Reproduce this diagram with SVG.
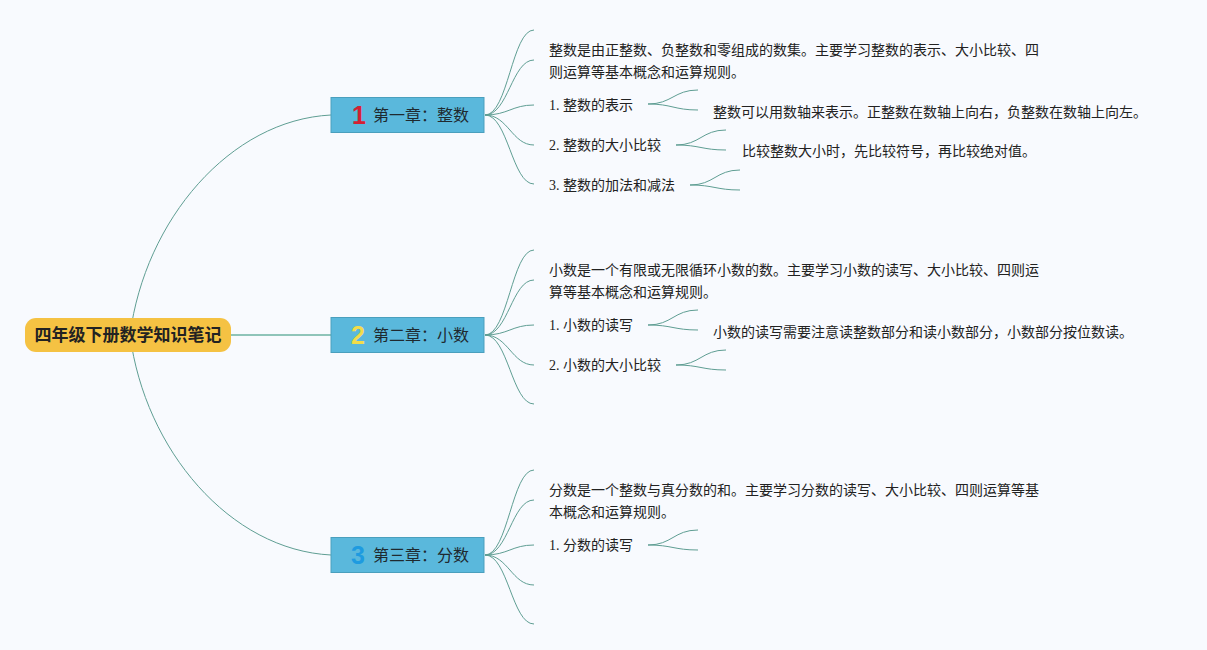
<svg xmlns="http://www.w3.org/2000/svg" width="1207" height="650" viewBox="0 0 1207 650">
<style>
.bg{fill:#f8fafe}
.ln{fill:none;stroke:#5f9e93;stroke-width:1}
.main{fill:none;stroke:#8fc4b9;stroke-width:2}
.chap{fill:#5ab8dc;stroke:#4a9fbd;stroke-width:1}
.ct{font-family:"Noto Sans CJK SC","Liberation Sans",sans-serif;font-size:16px;fill:#1f2a30}
.num{font-family:"Liberation Sans","DejaVu Sans",sans-serif;font-size:25px;font-weight:bold}
.t{font-family:"Liberation Serif","Noto Sans CJK SC",serif;font-size:14px;fill:#222}
.root{fill:#f5c243}
.rt{font-family:"Noto Sans CJK SC","Liberation Sans",sans-serif;font-size:17px;font-weight:bold;fill:#222}
</style>
<rect class="bg" x="0" y="0" width="1207" height="650"/>
<g id="connectors">
<path class="ln" d="M130,335 C145,220 230,120 331,115"/>
<path class="ln" d="M130,335 C145,450 230,550 331,555"/>
<line class="main" x1="231" y1="335" x2="331" y2="335"/>
<path class="ln" d="M485,115 C508,115 512,30 534,30"/>
<path class="ln" d="M485,115 C508,115 512,60 534,60"/>
<path class="ln" d="M485,115 C508,115 512,105 534,105"/>
<path class="ln" d="M485,115 C508,115 512,145 534,145"/>
<path class="ln" d="M485,115 C508,115 512,184 534,184"/>
<path class="ln" d="M648,104 C672,104 674,90 698,90"/>
<path class="ln" d="M648,104 C672,104 674,110 698,110"/>
<path class="ln" d="M676,145 C700,145 702,130 726,130"/>
<path class="ln" d="M676,145 C700,145 702,150 726,150"/>
<path class="ln" d="M690,185 C714,185 716,170 740,170"/>
<path class="ln" d="M690,185 C714,185 716,190 740,190"/>
<path class="ln" d="M485,335 C508,335 512,250 534,250"/>
<path class="ln" d="M485,335 C508,335 512,280 534,280"/>
<path class="ln" d="M485,335 C508,335 512,325 534,325"/>
<path class="ln" d="M485,335 C508,335 512,365 534,365"/>
<path class="ln" d="M485,335 C508,335 512,404 534,404"/>
<path class="ln" d="M648,325 C672,325 674,310 698,310"/>
<path class="ln" d="M648,325 C672,325 674,330 698,330"/>
<path class="ln" d="M676,365 C700,365 702,350 726,350"/>
<path class="ln" d="M676,365 C700,365 702,370 726,370"/>
<path class="ln" d="M485,555 C508,555 512,470 534,470"/>
<path class="ln" d="M485,555 C508,555 512,500 534,500"/>
<path class="ln" d="M485,555 C508,555 512,545 534,545"/>
<path class="ln" d="M485,555 C508,555 512,585 534,585"/>
<path class="ln" d="M485,555 C508,555 512,624 534,624"/>
<path class="ln" d="M648,545 C672,545 674,530 698,530"/>
<path class="ln" d="M648,545 C672,545 674,550 698,550"/>
</g>
<g id="root">
<rect class="root" x="25" y="318" width="206" height="34" rx="11"/>
<text class="rt" x="128" y="341" text-anchor="middle">四年级下册数学知识笔记</text>
</g>
<g id="ch1">
<rect class="chap" x="331" y="97.5" width="153" height="35"/>
<text class="num" x="359" y="124" text-anchor="middle" fill="#d42033">1</text>
<text class="ct" x="373" y="121">第一章：整数</text>
</g>
<g id="ch2">
<rect class="chap" x="331" y="317.5" width="153" height="35"/>
<text class="num" x="358" y="344" text-anchor="middle" fill="#f2dc4a">2</text>
<text class="ct" x="373" y="341">第二章：小数</text>
</g>
<g id="ch3">
<rect class="chap" x="331" y="537.5" width="153" height="35"/>
<text class="num" x="358" y="564" text-anchor="middle" fill="#1e9be0">3</text>
<text class="ct" x="373" y="561">第三章：分数</text>
</g>
<g id="ch1-desc">
<text class="t" x="549" y="55">整数是由正整数、负整数和零组成的数集。主要学习整数的表示、大小比较、四</text>
<text class="t" x="549" y="77">则运算等基本概念和运算规则。</text>
</g>
<g id="ch1-s1"><text class="t" x="549" y="110">1. 整数的表示</text></g>
<g id="ch1-s1-n"><text class="t" x="713" y="117">整数可以用数轴来表示。正整数在数轴上向右，负整数在数轴上向左。</text></g>
<g id="ch1-s2"><text class="t" x="549" y="150">2. 整数的大小比较</text></g>
<g id="ch1-s2-n"><text class="t" x="742" y="156">比较整数大小时，先比较符号，再比较绝对值。</text></g>
<g id="ch1-s3"><text class="t" x="549" y="190">3. 整数的加法和减法</text></g>
<g id="ch2-desc">
<text class="t" x="549" y="275">小数是一个有限或无限循环小数的数。主要学习小数的读写、大小比较、四则运</text>
<text class="t" x="549" y="297">算等基本概念和运算规则。</text>
</g>
<g id="ch2-s1"><text class="t" x="549" y="330">1. 小数的读写</text></g>
<g id="ch2-s1-n"><text class="t" x="713" y="337">小数的读写需要注意读整数部分和读小数部分，小数部分按位数读。</text></g>
<g id="ch2-s2"><text class="t" x="549" y="370">2. 小数的大小比较</text></g>
<g id="ch3-desc">
<text class="t" x="549" y="495">分数是一个整数与真分数的和。主要学习分数的读写、大小比较、四则运算等基</text>
<text class="t" x="549" y="517">本概念和运算规则。</text>
</g>
<g id="ch3-s1"><text class="t" x="549" y="550">1. 分数的读写</text></g>
</svg>
